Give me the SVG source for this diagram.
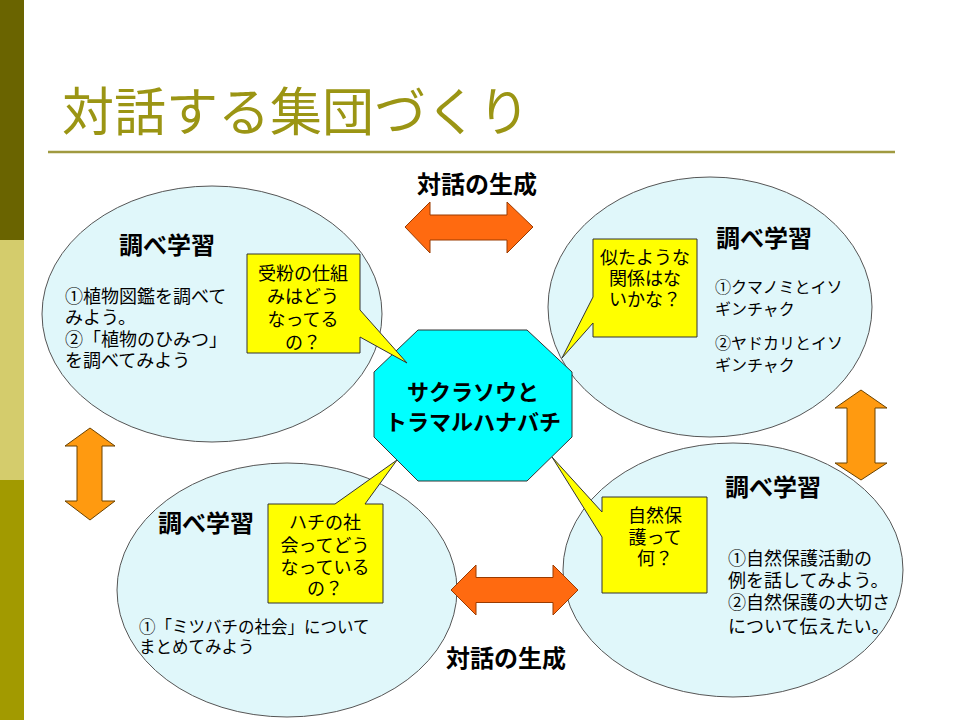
<svg xmlns="http://www.w3.org/2000/svg" width="960" height="720" viewBox="0 0 960 720">
<style>
text{font-family:"Noto Sans CJK JP","Noto Sans CJK SC",sans-serif;fill:#000}
.title{font-size:52px;fill:#9B9514}
.head{font-size:24px;font-weight:bold}
.body{font-size:18px}
.kt{font-size:16px}
.kb{font-size:16.5px}
.call{font-size:18px}
.lbl{font-size:24px;font-weight:bold}
.oct{font-size:22px;font-weight:bold}
.ell{fill:#E0F7FA;stroke:#555;stroke-width:1}
.callout{fill:#FFFF00;stroke:#333;stroke-width:1}
.harrow{fill:#FF6A10;stroke:#9A3A00;stroke-width:1}
.varrow{fill:#FF9A10;stroke:#6A4200;stroke-width:1}
</style>
<rect x="0" y="0" width="960" height="720" fill="#FFFFFF"/>
<g id="sidebar">
<rect x="0" y="0" width="24" height="240" fill="#6A6400"/>
<rect x="0" y="240" width="24" height="240" fill="#D4CC6C"/>
<rect x="0" y="480" width="24" height="240" fill="#A29A00"/>
</g>
<g id="title">
<text class="title" x="62" y="131">対話する集団づくり</text>
<line x1="48" y1="152" x2="895" y2="152" stroke="#A09A40" stroke-width="2.5"/>
</g>
<g id="ellipses">
<ellipse id="ell-tl" class="ell" cx="212" cy="314" rx="170" ry="128"/>
<ellipse id="ell-tr" class="ell" cx="710" cy="307" rx="162" ry="130"/>
<ellipse id="ell-bl" class="ell" cx="287" cy="590" rx="170" ry="127"/>
<ellipse id="ell-br" class="ell" cx="733" cy="570" rx="170" ry="127"/>
</g>
<g id="connectors">
<polygon class="harrow" points="405,227 430,202 430,215 507,215 507,202 533,227 507,253 507,240 430,240 430,253"/>
<polygon class="harrow" points="451,590 476,565 476,577.5 553,577.5 553,565 578,590 553,615 553,602.5 476,602.5 476,615"/>
<polygon class="varrow" points="90,428 115,446 102,446 102,501 115,501 90,520 65,501 77,501 77,446 65,446"/>
<polygon class="varrow" points="861,390 887,408 875,408 875,463 887,463 861,480 835,463 847,463 847,408 835,408"/>
</g>
<g id="center">
<polygon points="418,330 527,330 572,372 572,437 527,481 418,481 374,437 374,372" fill="#00FFFF" stroke="#333" stroke-width="1"/>
<text class="oct" text-anchor="middle"><tspan x="473" y="400">サクラソウと</tspan><tspan x="473" y="430">トラマルハナバチ</tspan></text>
</g>
<g id="callout-tl">
<path class="callout" d="M247,254 H360 V310 L407,363 L360,337 V353 H247 Z"/>
<text class="call" text-anchor="middle"><tspan x="303" y="280">受粉の仕組</tspan><tspan x="303" y="303">みはどう</tspan><tspan x="303" y="326">なってる</tspan><tspan x="303" y="349">の？</tspan></text>
</g>
<g id="callout-tr">
<path class="callout" d="M593,239 H697 V337 H593 V323 L562,358 L593,297 Z"/>
<text class="call" text-anchor="middle"><tspan x="645" y="264">似たような</tspan><tspan x="645" y="285">関係はな</tspan><tspan x="645" y="306">いかな？</tspan></text>
</g>
<g id="callout-bl">
<path class="callout" d="M268,504 H335 L397,460 L365,504 H383 V603 H268 Z"/>
<text class="call" text-anchor="middle"><tspan x="325" y="529">ハチの社</tspan><tspan x="325" y="552">会ってどう</tspan><tspan x="325" y="574">なっている</tspan><tspan x="325" y="595">の？</tspan></text>
</g>
<g id="callout-br">
<path class="callout" d="M602,497 H707 V593 H602 V537 L552,457 L602,512 Z"/>
<text class="call" text-anchor="middle"><tspan x="655" y="522">自然保</tspan><tspan x="655" y="544">護って</tspan><tspan x="655" y="565">何？</tspan></text>
</g>
<g id="node-tl">
<text class="head" x="167" y="254" text-anchor="middle">調べ学習</text>
<text class="body"><tspan x="65" y="303">①植物図鑑を調べて</tspan><tspan x="65" y="324">みよう。</tspan><tspan x="65" y="346">②「植物のひみつ」</tspan><tspan x="65" y="367">を調べてみよう</tspan></text>
</g>
<g id="node-tr">
<text class="head" x="764" y="247" text-anchor="middle">調べ学習</text>
<text class="kt"><tspan x="715" y="293">①クマノミとイソ</tspan><tspan x="715" y="315">ギンチャク</tspan></text>
<text class="kt"><tspan x="715" y="349">②ヤドカリとイソ</tspan><tspan x="715" y="371">ギンチャク</tspan></text>
</g>
<g id="node-bl">
<text class="head" x="206" y="532" text-anchor="middle">調べ学習</text>
<text class="kb"><tspan x="139" y="633">①「ミツバチの社会」について</tspan><tspan x="139" y="653">まとめてみよう</tspan></text>
</g>
<g id="node-br">
<text class="head" x="773" y="496" text-anchor="middle">調べ学習</text>
<text class="body"><tspan x="728" y="565">①自然保護活動の</tspan><tspan x="728" y="587">例を話してみよう。</tspan><tspan x="728" y="609">②自然保護の大切さ</tspan><tspan x="728" y="633">について伝えたい。</tspan></text>
</g>
<g id="labels">
<text class="lbl" x="477" y="193" text-anchor="middle">対話の生成</text>
<text class="lbl" x="506" y="667" text-anchor="middle">対話の生成</text>
</g>
</svg>
